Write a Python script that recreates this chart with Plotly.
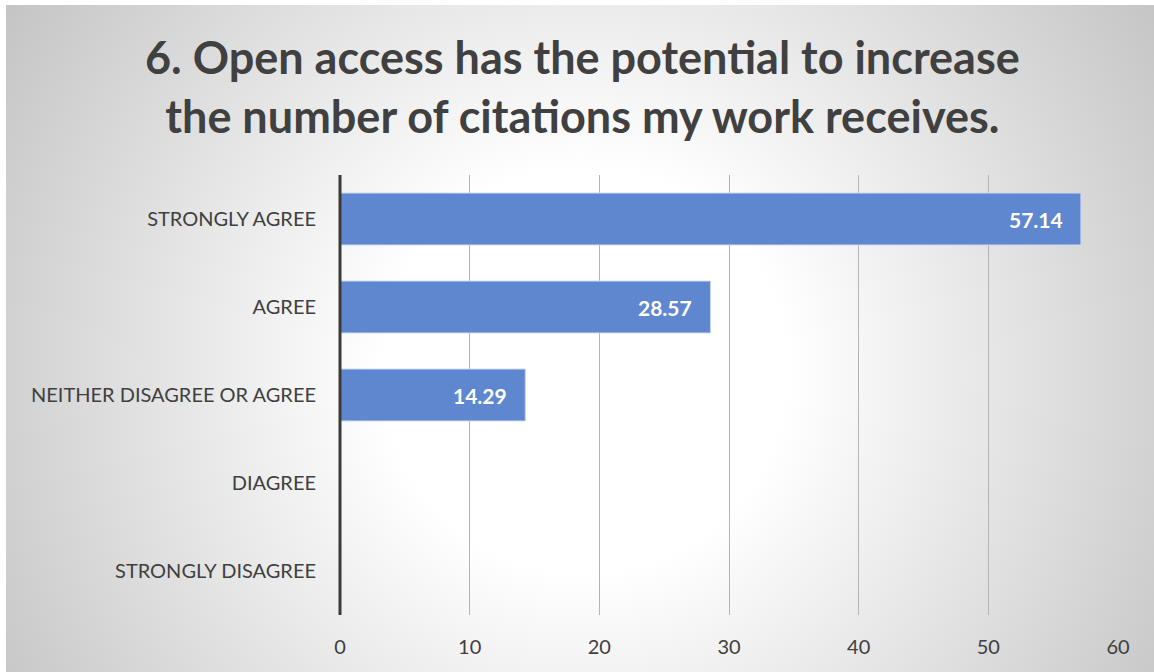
import base64
import plotly.graph_objects as go

categories = ["STRONGLY AGREE", "AGREE", "NEITHER DISAGREE OR AGREE", "DIAGREE", "STRONGLY DISAGREE"]
values = [57.14, 28.57, 14.29, None, None]
x_ticks = [0, 10, 20, 30, 40, 50, 60]
title_lines = ["6. Open access has the potential to increase", "the number of citations my work receives."]

W, H = 1154, 672
ML, MR, MT, MB = 340, 36, 175, 57
PW, PH = W - ML - MR, H - MT - MB

svg = f'''<svg xmlns="http://www.w3.org/2000/svg" width="{W}" height="{H}" viewBox="0 0 {W} {H}">
<defs><radialGradient id="g" gradientUnits="userSpaceOnUse" cx="585" cy="370" r="720">
<stop offset="0" stop-color="#ffffff"/><stop offset="0.28" stop-color="#ffffff"/>
<stop offset="0.75" stop-color="#d6d6d6"/><stop offset="1" stop-color="#c0c0c0"/></radialGradient></defs>
<rect x="0" y="0" width="{W}" height="{H}" fill="#ffffff"/>
<rect x="6" y="5" width="{W-6}" height="{H-5}" fill="url(#g)"/>
</svg>'''
src = "data:image/svg+xml;base64," + base64.b64encode(svg.encode()).decode()

fig = go.Figure()
fig.add_trace(go.Bar(
    y=categories, x=values, orientation="h", width=0.59,
    marker=dict(color="#5f87cf", line=dict(color="#c9d6ef", width=1)),
    hoverinfo="skip",
))

for c, v in zip(categories, values):
    if v is not None:
        fig.add_annotation(x=v, y=c, text=f"<b>{v:.2f}</b>", showarrow=False,
                           xanchor="right", xshift=-16,
                           font=dict(family="Lato", size=21, color="white"))

fig.add_annotation(xref="paper", yref="paper", x=(582 - ML) / PW, y=1 + (MT - 86) / PH,
                   text="<b>" + "<br>".join(title_lines) + "</b>", showarrow=False,
                   xanchor="center", yanchor="middle",
                   font=dict(family="Lato", size=45, color="#404040"))

fig.update_layout(
    width=W, height=H,
    margin=dict(l=ML, r=MR, t=MT, b=MB, pad=0),
    paper_bgcolor="white", plot_bgcolor="rgba(0,0,0,0)",
    showlegend=False, bargap=0.41,
    images=[dict(source=src, xref="paper", yref="paper", x=-ML / PW, y=1 + MT / PH,
                 sizex=W / PW, sizey=H / PH, sizing="stretch", layer="below",
                 xanchor="left", yanchor="top")],
    xaxis=dict(range=[0, 60], tickvals=x_ticks, showgrid=True, gridcolor="#b4b4b4", gridwidth=1,
               zeroline=False, showline=False, ticks="outside", ticklen=14, tickcolor="rgba(0,0,0,0)",
               tickfont=dict(family="Lato", size=20, color="#404040")),
    yaxis=dict(categoryorder="array", categoryarray=categories, autorange="reversed",
               showgrid=False, zeroline=False, showline=False,
               ticks="outside", ticklen=19, tickcolor="rgba(0,0,0,0)",
               tickfont=dict(family="Lato", size=20, color="#404040")),
    shapes=[dict(type="line", xref="paper", yref="paper", x0=0, x1=0, y0=0, y1=1,
                 line=dict(color="#3a3a3a", width=3))],
)

fig.write_html("out.html", config={"displayModeBar": False},
               post_script="document.body.style.margin='0';")
